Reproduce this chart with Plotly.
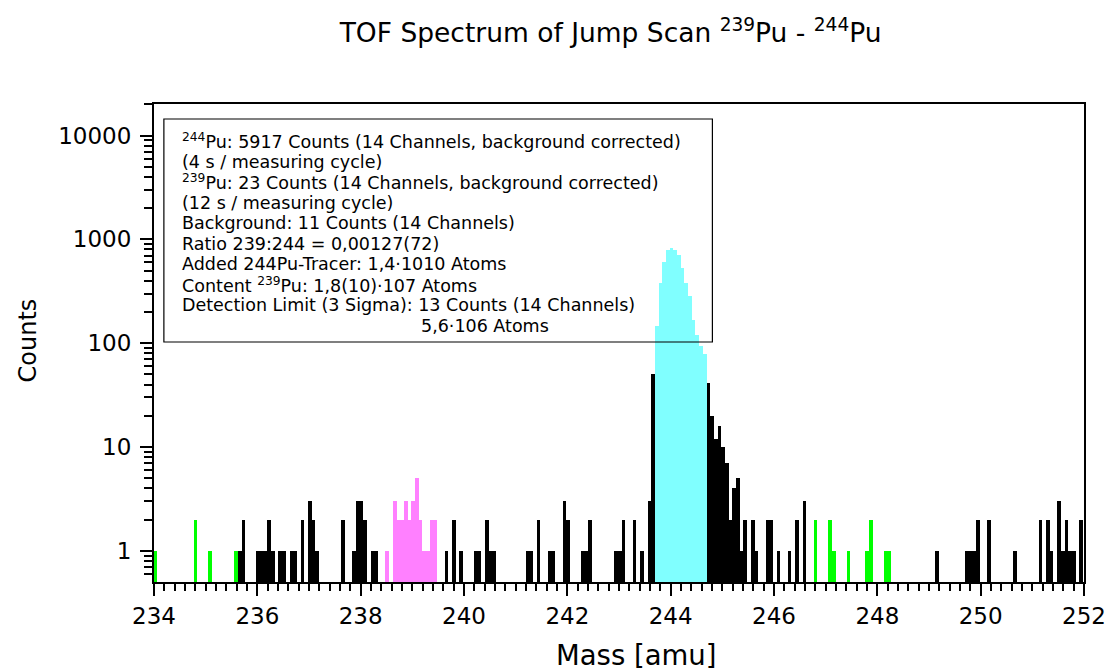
import math
import plotly.graph_objects as go

# ---- data: TOF channels (14 channels per amu) and counts ----
CAL_MASS0 = 234.016      # mass of channel 0 centre [amu]
CAL_PER_CH = 1.0 / 14.0  # amu per channel

bg_channels = [0, 11, 15, 22, 179, 183, 184, 188, 193, 194, 198, 199]
bg_counts = [1, 2, 1, 1, 2, 2, 1, 1, 1, 2, 1, 1]

pu239_channels = [63, 65, 66, 67, 68, 69, 70, 71, 72, 73, 74, 75, 76]
pu239_counts = [1, 3, 2, 2, 3, 2, 3, 5, 2, 1, 1, 2, 2]

pu244_channels = [136, 137, 138, 139, 140, 141, 142, 143, 144, 145, 146, 147, 148, 149]
pu244_counts = [148, 382, 605, 784, 830, 784, 713, 531, 382, 283, 166, 121, 95, 78]

other_channels = [23, 24, 28, 29, 30, 31, 32, 34, 35, 37, 38, 40, 42, 43, 44,
                  51, 54, 55, 56, 57, 59, 60,
                  79, 81, 83, 87, 88, 90, 91, 92, 101, 102, 104, 107, 108, 111, 112,
                  116, 117, 118, 125, 126, 127, 130, 132, 134, 135,
                  150, 151, 152, 153, 154, 155, 156, 157, 158, 159, 160, 162, 163,
                  166, 167, 169, 172, 174, 176,
                  212, 220, 221, 222, 223, 226, 233, 240, 242, 243, 245, 246, 247,
                  248, 249, 251]
other_counts = [1, 2, 1, 1, 1, 2, 1, 1, 1, 1, 1, 2, 3, 2, 1,
                2, 1, 3, 3, 2, 1, 1,
                1, 2, 1, 1, 1, 2, 1, 1, 1, 1, 2, 1, 1, 3, 2,
                1, 1, 2, 1, 1, 2, 2, 1, 3, 50,
                41, 20, 12, 16, 10, 7, 2, 4, 5, 1, 2, 2, 1,
                2, 2, 1, 1, 2, 3,
                1, 1, 1, 1, 2, 2, 1, 2, 2, 1, 3, 1, 2,
                1, 1, 2]

info_lines = [
    "<sup>244</sup>Pu: 5917 Counts (14 Channels, background corrected)",
    "(4 s / measuring cycle)",
    "<sup>239</sup>Pu: 23 Counts (14 Channels, background corrected)",
    "(12 s / measuring cycle)",
    "Background: 11 Counts (14 Channels)",
    "Ratio 239:244 = 0,00127(72)",
    "Added 244Pu-Tracer: 1,4\u00b71010 Atoms",
    "Content <sup>239</sup>Pu: 1,8(10)\u00b7107 Atoms",
    "Detection Limit (3 Sigma): 13 Counts (14 Channels)",
    "5,6\u00b7106 Atoms",
]

y_major = [1, 10, 100, 1000, 10000]
y_minor = [0.6, 0.7, 0.8, 0.9] + [m * 10 ** e for e in range(0, 4) for m in range(2, 10)] + [20000]

FONT = "DejaVu Sans"


def to_mass(chs):
    return [CAL_MASS0 + c * CAL_PER_CH for c in chs]


fig = go.Figure()
for chs, cts, col in [
    (other_channels, other_counts, "#000000"),
    (bg_channels, bg_counts, "#00FF00"),
    (pu239_channels, pu239_counts, "#FF80FF"),
    (pu244_channels, pu244_counts, "#80FFFF"),
]:
    fig.add_trace(go.Bar(x=to_mass(chs), y=cts, width=CAL_PER_CH,
                         marker=dict(color=col, line=dict(width=0)),
                         showlegend=False, hoverinfo="x+y"))

L, R, T, B = 154, 23, 104, 88
W, H = 1118, 670
pw, ph = W - L - R, H - T - B


def px(x):
    return (x - L) / pw


def py(y):
    return (H - B - y) / ph


annotations = []
for i, line in enumerate(info_lines):
    xl = 422 if i == len(info_lines) - 1 else 180
    annotations.append(dict(text=line, xref="paper", yref="paper",
                            x=px(xl), y=py(141 + 20.5 * i),
                            xanchor="left", yanchor="middle", align="left",
                            showarrow=False,
                            font=dict(family=FONT, size=17.5, color="black")))
annotations += [
    dict(text="Mass [amu]", xref="paper", yref="paper",
         x=px(642), y=py(655), xanchor="center", yanchor="middle",
         showarrow=False, font=dict(family=FONT, size=27.5, color="black")),
    dict(text="Counts", xref="paper", yref="paper", textangle=-90,
         x=px(27), y=py(340), xanchor="center", yanchor="middle",
         showarrow=False, font=dict(family=FONT, size=24, color="black")),
]

fig.update_layout(
    width=W, height=H, autosize=False,
    margin=dict(l=L, r=R, t=T, b=B, pad=0),
    paper_bgcolor="white", plot_bgcolor="white",
    barmode="overlay", bargap=0,
    font=dict(family=FONT, color="black", size=22),
    title=dict(text="TOF Spectrum of Jump Scan <sup>239</sup>Pu - <sup>244</sup>Pu",
               x=px(616), xref="paper", xanchor="center",
               y=1 - 33 / H, yref="container", yanchor="middle",
               font=dict(family=FONT, size=26.5, color="black")),
    xaxis=dict(range=[234, 252], tick0=234, dtick=2, ticks="outside",
               ticklen=12, tickwidth=2, tickcolor="black",
               showline=True, linewidth=2, linecolor="black", mirror=True,
               showgrid=False, zeroline=False,
               tickfont=dict(family=FONT, size=23),
               minor=dict(dtick=0.2, ticks="outside", ticklen=7, tickwidth=1.5,
                          tickcolor="black", showgrid=False)),
    yaxis=dict(type="log", range=[math.log10(0.5), math.log10(20180)],
               tickvals=y_major,
               ticktext=[str(v) for v in y_major],
               ticks="outside", ticklen=12, tickwidth=2, tickcolor="black",
               ticklabelstandoff=4,
               showline=True, linewidth=2, linecolor="black", mirror=True,
               showgrid=False, zeroline=False,
               tickfont=dict(family=FONT, size=23),
               minor=dict(tickvals=y_minor, ticks="outside", ticklen=8, tickwidth=2,
                          tickcolor="black", showgrid=False)),
    shapes=[dict(type="rect", xref="paper", yref="paper",
                 x0=px(164), x1=px(719), y0=py(342), y1=py(119),
                 line=dict(color="black", width=1.2), fillcolor="rgba(0,0,0,0)")],
    annotations=annotations,
)

fig.write_html("out.html", config={"responsive": False},
               post_script="document.body.style.margin='0';document.body.style.overflow='hidden';")
